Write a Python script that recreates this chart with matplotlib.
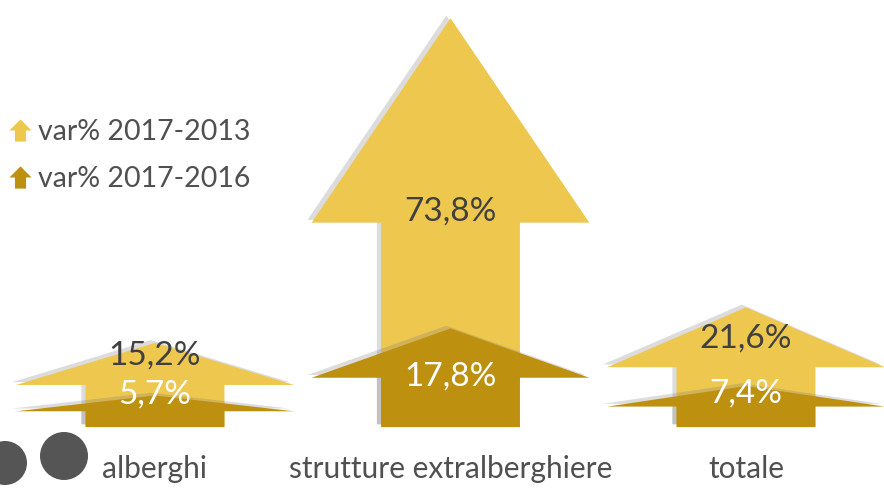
import matplotlib
matplotlib.use("Agg")
import matplotlib.pyplot as plt
from matplotlib.patches import Polygon, Circle
from matplotlib.lines import Line2D
from matplotlib.path import Path
import matplotlib.patheffects as pe

categories = ["alberghi", "strutture extralberghiere", "totale"]
var_2013 = [15.2, 73.8, 21.6]
var_2016 = [5.7, 17.8, 7.4]
series_names = ["var% 2017-2013", "var% 2017-2016"]

# where the value labels sit (in % units), placed by hand like the original
label_y_2013 = [13.0, 39.0, 15.9]
label_y_2016 = [5.8, 9.2, 6.1]

col_2013 = "#EEC74E"
col_2016 = "#BD910F"
txt = "#404040"

plt.rcParams["font.family"] = ["Lato", "DejaVu Sans"]

fig = plt.figure(figsize=(8.84, 4.88), dpi=100)
ax = fig.add_axes([0, 0, 1, 1])
ax.set_xlim(-0.5245, 2.467)
ax.set_ylim(-11.0, 77.1)
ax.axis("off")

head_w = 0.94
shaft_w = 0.47


def arrow(x, h, color, z):
    hb = h * 0.5
    pts = [(x - shaft_w / 2, 0), (x - shaft_w / 2, hb), (x - head_w / 2, hb),
           (x, h), (x + head_w / 2, hb), (x + shaft_w / 2, hb), (x + shaft_w / 2, 0)]
    p = Polygon(pts, closed=True, facecolor=color, edgecolor="none", zorder=z)
    p.set_path_effects([pe.SimplePatchShadow(offset=(-3, 2), shadow_rgbFace="#777777", alpha=0.25),
                        pe.Normal()])
    ax.add_patch(p)


for i, cat in enumerate(categories):
    arrow(i, var_2013[i], col_2013, 2)
    arrow(i, var_2016[i], col_2016, 3)
    ax.text(i, label_y_2013[i], f"{var_2013[i]:.1f}%".replace(".", ","), ha="center", va="center",
            fontsize=24, color=txt, zorder=5)
    ax.text(i, label_y_2016[i], f"{var_2016[i]:.1f}%".replace(".", ","), ha="center", va="center",
            fontsize=24, color="white", zorder=5)
    ax.text(i, -7.6, cat, ha="center", va="center", fontsize=21.5, color="#505050")

# decorative circles bottom-left (pixel units via inches at dpi 100)
for cx, cy, r in [(5, 463, 22), (64, 456, 24)]:
    fig.patches.append(Circle((cx / 100, (488 - cy) / 100), r / 100, transform=fig.dpi_scale_trans,
                              facecolor="#555555", edgecolor="none"))

# legend with little arrow markers
arrow_marker = Path([(-0.25, -0.5), (-0.25, 0), (-0.5, 0), (0, 0.5), (0.5, 0), (0.25, 0),
                     (0.25, -0.5), (-0.25, -0.5)])
handles = [Line2D([], [], linestyle="none", marker=arrow_marker, markersize=16,
                  markerfacecolor=c, markeredgecolor="none") for c in (col_2013, col_2016)]
ax.legend(handles, series_names, loc="upper left", bbox_to_anchor=(-0.01, 0.797), frameon=False,
          fontsize=20.5, labelcolor="#505050", handlelength=0.6, handletextpad=0.35,
          labelspacing=0.75, borderaxespad=0.3)

fig.savefig("out.png", dpi=100)
